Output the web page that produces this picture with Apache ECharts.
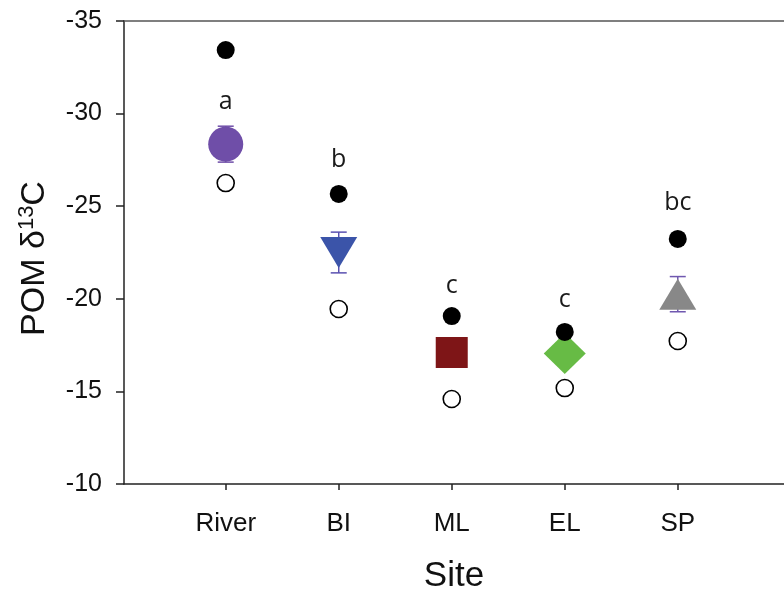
<!DOCTYPE html>
<html lang="en">
<head>
    <meta charset="UTF-8">
    <title>POM d13C by site</title>
    <style>
        html, body { margin: 0; padding: 0; background: #fff; }
        #chart { width: 784px; height: 592px; }
    </style>
</head>
<body>
    <div id="chart"></div>
    <script src="https://cdn.jsdelivr.net/npm/echarts@6/dist/echarts.min.js"></script>
    <script>
        // data
        var sites = ['River', 'BI', 'ML', 'EL', 'SP'];
        var meanVals = [-28.35, -22.5, -17.1, -17.05, -20.25];
        var errVals = [0.97, 1.1, 0.5, 0.5, 0.95];
        var filledVals = [-33.43, -25.66, -19.07, -18.21, -23.23];
        var openVals = [-26.25, -19.45, -14.59, -15.18, -17.72];
        var letters = ['a', 'b', 'c', 'c', 'bc'];
        var letterVals = [-30.63, -27.5, -20.69, -19.94, -25.17];
        var yTicks = [-35, -30, -25, -20, -15, -10];

        var meanColors = ['#6f4ea8', '#3b54a9', '#7e1517', '#67bb45', '#888888'];
        var errColors = ['#6f4ea8', '#5a50b0', '#7e1517', '#67bb45', '#7058b0'];
        var meanSymbols = ['circle', 'triangle', 'rect', 'diamond', 'triangle'];
        var meanSizes = [[35, 35], [37, 31], [32, 31], [42, 41], [37, 31]];
        var meanRotate = [0, 180, 0, 0, 0];

        var chart = echarts.init(document.getElementById('chart'));

        var meanData = sites.map(function (s, i) {
            return {
                value: [i + 1, meanVals[i]],
                symbol: meanSymbols[i],
                symbolSize: meanSizes[i],
                symbolRotate: meanRotate[i],
                itemStyle: { color: meanColors[i], opacity: 1 }
            };
        });

        var errData = sites.map(function (s, i) {
            return [i + 1, meanVals[i] - errVals[i], meanVals[i] + errVals[i], i];
        });

        var axisFont = 'Liberation Sans, Arial, sans-serif';

        chart.setOption({
            animation: false,
            grid: { left: 124, right: 0, top: 21, bottom: 108, outerBoundsMode: 'none', containLabel: false },
            xAxis: [{
                type: 'value',
                min: 0.1,
                max: 5.94,
                name: 'Site',
                nameLocation: 'middle',
                nameGap: 75,
                nameTextStyle: { fontSize: 35, color: '#111', fontFamily: axisFont },
                axisLine: { show: true, lineStyle: { color: '#222', width: 1.5 } },
                axisTick: { show: true, length: 6, customValues: [1, 2, 3, 4, 5], lineStyle: { color: '#222', width: 1.5 } },
                axisLabel: {
                    customValues: [1, 2, 3, 4, 5],
                    margin: 27,
                    fontSize: 26,
                    color: '#111',
                    fontFamily: axisFont,
                    formatter: function (v) { return sites[Math.round(v) - 1] || ''; }
                },
                splitLine: { show: false }
            }, {
                type: 'value',
                position: 'top',
                min: 0.1,
                max: 5.94,
                axisLine: { show: true, onZero: false, lineStyle: { color: '#555', width: 1.5 } },
                axisTick: { show: false },
                axisLabel: { show: false },
                splitLine: { show: false }
            }],
            yAxis: {
                type: 'value',
                inverse: true,
                min: -35,
                max: -10,
                interval: 5,
                name: '{n|POM δ}{s|13}{n|C}',
                nameLocation: 'middle',
                nameGap: 72,
                nameRotate: 90,
                nameTextStyle: {
                    padding: [0, 12, 0, 0],
                    rich: {
                        n: { fontSize: 34, color: '#111', fontFamily: axisFont, verticalAlign: 'bottom' },
                        s: { fontSize: 22, color: '#111', fontFamily: axisFont, verticalAlign: 'top', padding: [0, 0, 14, 0] }
                    }
                },
                axisLine: { show: true, onZero: false, lineStyle: { color: '#222', width: 1.5 } },
                axisTick: { show: true, inside: false, length: 8, lineStyle: { color: '#222', width: 1.5 } },
                axisLabel: {
                    margin: 22,
                    fontSize: 25,
                    color: '#111',
                    fontFamily: axisFont,
                    formatter: function (v) { return yTicks.indexOf(v) >= 0 ? String(v) : ''; }
                },
                splitLine: { show: false }
            },
            series: [
                {
                    type: 'custom',
                    zlevel: 0,
                    z: 1,
                    data: errData,
                    renderItem: function (params, api) {
                        var x = api.value(0);
                        var lo = api.coord([x, api.value(1)]);
                        var hi = api.coord([x, api.value(2)]);
                        var c = errColors[api.value(3)];
                        var w = 8;
                        var st = { stroke: c, lineWidth: 1.5 };
                        return {
                            type: 'group',
                            children: [
                                { type: 'line', shape: { x1: lo[0], y1: lo[1], x2: hi[0], y2: hi[1] }, style: st },
                                { type: 'line', shape: { x1: lo[0] - w, y1: lo[1], x2: lo[0] + w, y2: lo[1] }, style: st },
                                { type: 'line', shape: { x1: hi[0] - w, y1: hi[1], x2: hi[0] + w, y2: hi[1] }, style: st }
                            ]
                        };
                    }
                },
                {
                    type: 'scatter',
                    zlevel: 1,
                    z: 2,
                    itemStyle: { opacity: 1 },
                    data: meanData
                },
                {
                    type: 'scatter',
                    zlevel: 1,
                    z: 3,
                    symbol: 'circle',
                    symbolSize: 18,
                    itemStyle: { color: '#000', opacity: 1 },
                    data: filledVals.map(function (v, i) { return [i + 1, v]; })
                },
                {
                    type: 'scatter',
                    zlevel: 1,
                    z: 3,
                    symbol: 'circle',
                    symbolSize: 17,
                    itemStyle: { color: '#fff', borderColor: '#000', borderWidth: 1.6, opacity: 1 },
                    data: openVals.map(function (v, i) { return [i + 1, v]; })
                },
                {
                    type: 'scatter',
                    zlevel: 1,
                    z: 4,
                    symbolSize: 0,
                    silent: true,
                    itemStyle: { opacity: 1 },
                    label: {
                        show: true,
                        position: 'inside',
                        fontSize: 25,
                        color: '#1a1a1a',
                        fontFamily: 'Open Sans, sans-serif',
                        formatter: function (p) { return letters[p.dataIndex]; }
                    },
                    data: letterVals.map(function (v, i) { return [i + 1, v]; })
                }
            ]
        });
    </script>
</body>
</html>
